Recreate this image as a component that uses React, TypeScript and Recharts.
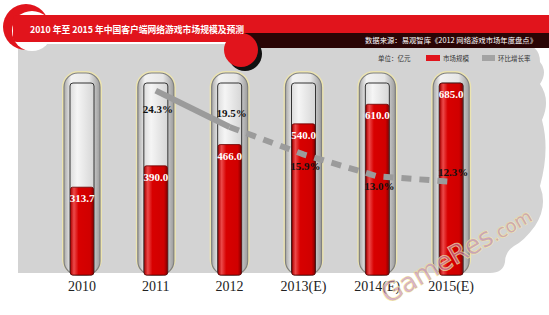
import React from 'react';
import { ComposedChart, Bar, Line, XAxis, YAxis, LabelList } from 'recharts';

const years = ['2010', '2011', '2012', '2013(E)', '2014(E)', '2015(E)'];
const marketSize = [313.7, 390.0, 466.0, 540.0, 610.0, 685.0];
const growthRate: (number | null)[] = [null, 24.3, 19.5, 15.9, 13.0, 12.3];

// the line turns dashed from 2012 on (forecast years)
const DASH_FROM = 2;

const data = years.map((year, i) => ({
  year,
  size: marketSize[i],
  growth: growthRate[i],
  growthSolid: i <= DASH_FROM ? growthRate[i] : null,
  growthDash: i >= DASH_FROM ? growthRate[i] : null,
}));

// percent labels sit above or below the line depending on the year
const PCT_DY = [0, 18, -14, 12, 10, -10];

const RED = '#e1141c';
const serif = '"Liberation Serif", "Times New Roman", serif';
const cjk = '"Noto Sans CJK SC", "Noto Sans", sans-serif';

const Tube = (props: any) => {
  const { x, y, width, height } = props;
  return (
    <g>
      <rect x={x - 8} y={y - 12} width={width + 16} height={height + 12} rx={16} fill="#ece4b0" />
      <rect x={x - 6} y={y - 10} width={width + 12} height={height + 10} rx={14} fill="url(#glass)" stroke="#808080" strokeWidth={1.2} />
      <rect x={x} y={y} width={width} height={height} rx={3} fill="url(#innerTube)" stroke="#333" strokeWidth={1} />
    </g>
  );
};

const RedBar = (props: any) => {
  const { x, y, width, height } = props;
  return <rect x={x + 0.5} y={y} width={width - 1} height={height} rx={2} fill="url(#redFill)" stroke="#6a0000" strokeWidth={0.8} />;
};

const SizeLabel = (props: any) => {
  const { x, y, width, value } = props;
  return (
    <text x={x + width / 2} y={y + 11} textAnchor="middle" dominantBaseline="central" fill="#fff" fontFamily={serif} fontWeight="bold" fontSize={11}>
      {Number(value).toFixed(1)}
    </text>
  );
};

const PctLabel = (props: any) => {
  const { x, y, value, index } = props;
  if (value == null) return null;
  return (
    <text x={x + 2} y={y + PCT_DY[index]} textAnchor="middle" dominantBaseline="central" fill="#111" fontFamily={serif} fontWeight="bold" fontSize={11}>
      {Number(value).toFixed(1)}%
    </text>
  );
};

const YearTick = (props: any) => {
  const { x, y, payload } = props;
  return (
    <text x={x} y={y + 11} textAnchor="middle" dominantBaseline="central" fill="#222" fontFamily={serif} fontSize={14}>
      {payload.value}
    </text>
  );
};

const Backdrop = () => (
  <svg width={549} height={315} style={{ position: 'absolute', left: 0, top: 0 }}>
    <defs>
      <linearGradient id="glass" x1="0" x2="1" y1="0" y2="0">
        <stop offset="0" stopColor="#a9a9a9" />
        <stop offset="0.2" stopColor="#f2f2f2" />
        <stop offset="0.7" stopColor="#e6e6e6" />
        <stop offset="1" stopColor="#9c9c9c" />
      </linearGradient>
      <linearGradient id="innerTube" x1="0" x2="1" y1="0" y2="0">
        <stop offset="0" stopColor="#dcdcdc" />
        <stop offset="0.3" stopColor="#f5f5f5" />
        <stop offset="1" stopColor="#d6d6d6" />
      </linearGradient>
      <linearGradient id="redFill" x1="0" x2="1" y1="0" y2="0">
        <stop offset="0" stopColor="#b00000" />
        <stop offset="0.15" stopColor="#ec4a4a" />
        <stop offset="0.35" stopColor="#d80000" />
        <stop offset="0.85" stopColor="#d00000" />
        <stop offset="1" stopColor="#8a0000" />
      </linearGradient>
    </defs>
    <path
      d="M18,44 H520 Q540,44 540,62 Q548,72 540,84 Q551,100 542,120 Q550,150 540,186 Q548,206 535,226 Q524,241 514,246 Q505,252 505,262 Q503,273 490,273 H18 Z"
      fill="#d3d3d3"
    />
    <circle cx={26} cy={27} r={23} fill={RED} />
    <circle cx={32} cy={31} r={20} fill="#fff" />
    <rect x={13} y={15} width={536} height={18} fill={RED} />
    <rect x={13} y={15} width={232} height={27} rx={4} fill={RED} />
    <rect x={240} y={33} width={309} height={15} fill="#2a0505" />
    <circle cx={245} cy={54} r={17} fill="#111" />
    <circle cx={241} cy={50} r={17} fill={RED} />
    <text x={30} y={33} fill="#fff" fontFamily={cjk} fontWeight="bold" fontSize={9.5} textLength={214} lengthAdjust="spacingAndGlyphs">
      2010 年至 2015 年中国客户端网络游戏市场规模及预测
    </text>
    <text x={537} y={43} textAnchor="end" fill="#fff" fontFamily={cjk} fontSize={7} textLength={172} lengthAdjust="spacingAndGlyphs">
      数据来源：易观智库《2012 网络游戏市场年度盘点》
    </text>
    <text x={378} y={60.5} fill="#333" fontFamily={cjk} fontSize={6.5}>单位：亿元</text>
    <rect x={426} y={55} width={14} height={6} fill={RED} />
    <text x={443} y={60.5} fill="#333" fontFamily={cjk} fontSize={6.5}>市场规模</text>
    <rect x={482} y={55} width={13} height={6} fill="#a3a3a3" />
    <text x={498} y={60.5} fill="#333" fontFamily={cjk} fontSize={6.5}>环比增长率</text>
  </svg>
);

const Watermark = () => (
  <svg width={549} height={315} style={{ position: 'absolute', left: 0, top: 0, pointerEvents: 'none' }}>
    <text
      x={388}
      y={304}
      transform="rotate(-30 388 304)"
      fontFamily='"DejaVu Sans", sans-serif'
      fill="rgba(185,120,170,0.55)"
      stroke="rgba(245,235,160,0.8)"
      strokeWidth={1.2}
      paintOrder="stroke"
    >
      <tspan fontSize={26}>GameRes</tspan>
      <tspan fontSize={18}>.com</tspan>
    </text>
  </svg>
);

export default function App() {
  return (
    <div style={{ position: 'absolute', left: 0, top: 0, width: 549, height: 315, background: '#fff', overflow: 'hidden' }}>
      <Backdrop />
      <div style={{ position: 'absolute', left: 0, top: 0 }}>
        <ComposedChart width={549} height={315} data={data} margin={{ top: 83, right: 61, bottom: 0, left: 45 }}>
          <XAxis dataKey="year" height={40} axisLine={false} tickLine={false} tickSize={0} tickMargin={0} interval={0} tick={<YearTick />} />
          <YAxis yAxisId="size" hide domain={[0, 686]} />
          <YAxis yAxisId="pct" hide orientation="right" domain={[0, 25.3]} />
          <Bar yAxisId="size" dataKey="size" barSize={24} background={<Tube />} shape={<RedBar />} isAnimationActive={false}>
            <LabelList dataKey="size" content={<SizeLabel />} />
          </Bar>
          <Line yAxisId="pct" dataKey="growthSolid" stroke="#9b9b9b" strokeWidth={6} dot={false} connectNulls={false} isAnimationActive={false} />
          <Line yAxisId="pct" dataKey="growthDash" stroke="#9b9b9b" strokeWidth={6} strokeDasharray="10 8" dot={false} isAnimationActive={false} />
          <Line yAxisId="pct" dataKey="growth" stroke="none" dot={false} isAnimationActive={false}>
            <LabelList dataKey="growth" content={<PctLabel />} />
          </Line>
        </ComposedChart>
      </div>
      <Watermark />
    </div>
  );
}
